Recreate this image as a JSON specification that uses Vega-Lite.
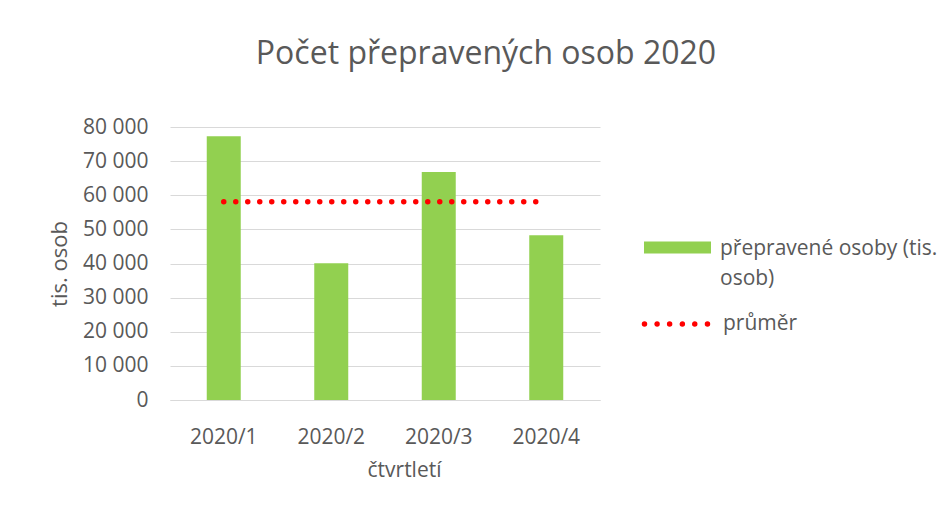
{
  "$schema": "https://vega.github.io/schema/vega-lite/v6.json",
  "autosize": {"type": "none"},
  "padding": {"left": 170, "top": 127, "right": 348, "bottom": 109},
  "width": 430,
  "height": 273,
  "background": "white",
  "config": {
    "view": {"stroke": null},
    "font": "Open Sans",
    "style": {"guide-label": {"lineHeight": 30}},
    "axisY": {
      "values": [0, 10000, 20000, 30000, 40000, 50000, 60000, 70000, 80000],
      "labelExpr": "replace(format(datum.value, ',d'), ',', ' ')",
      "labelOverlap": false,
      "labelFontSize": 21,
      "labelColor": "#595959",
      "labelPadding": 22,
      "titleFontSize": 22,
      "titleFontWeight": "normal",
      "titleColor": "#595959",
      "titlePadding": 11,
      "ticks": false,
      "domain": false,
      "gridColor": "#D9D9D9",
      "gridWidth": 1
    }
  },
  "title": {
    "text": "Počet přepravených osob 2020",
    "anchor": "middle",
    "dx": 101,
    "offset": 45,
    "fontSize": 32,
    "fontWeight": "normal",
    "font": "Open Sans",
    "color": "#595959"
  },
  "data": {
    "values": [
      {"q": "2020/1", "v": 77300, "avg": 58125, "s1": "přepravené osoby (tis. osob)", "s2": "průměr"},
      {"q": "2020/2", "v": 40100, "avg": 58125, "s1": "přepravené osoby (tis. osob)", "s2": "průměr"},
      {"q": "2020/3", "v": 66800, "avg": 58125, "s1": "přepravené osoby (tis. osob)", "s2": "průměr"},
      {"q": "2020/4", "v": 48300, "avg": 58125, "s1": "přepravené osoby (tis. osob)", "s2": "průměr"}
    ]
  },
  "encoding": {
    "x": {
      "field": "q",
      "type": "nominal",
      "scale": {"paddingInner": 0, "paddingOuter": 0},
      "axis": {
        "title": "čtvrtletí",
        "labelAngle": 0,
        "labelFontSize": 21,
        "labelColor": "#595959",
        "labelPadding": 26,
        "titleFontSize": 21,
        "titleFontWeight": "normal",
        "titleColor": "#595959",
        "titlePadding": 12,
        "titleX": 234,
        "ticks": false,
        "domainColor": "#D9D9D9",
        "domainWidth": 1
      }
    }
  },
  "layer": [
    {
      "mark": {"type": "bar", "size": 34, "color": "#92D050"},
      "encoding": {
        "y": {
          "field": "v",
          "type": "quantitative",
          "scale": {"domain": [0, 80000], "nice": false},
          "axis": {"title": "tis. osob"}
        },
        "fill": {
          "field": "s1",
          "type": "nominal",
          "scale": {"range": ["#92D050"]},
          "legend": {
            "title": null,
            "orient": "none",
            "legendX": 474,
            "legendY": 94,
            "padding": 0,
            "symbolType": "M-1,-0.39H1V-0.03H-1Z",
            "symbolSize": 4489,
            "symbolStrokeWidth": 0,
            "symbolOpacity": 1,
            "labelOffset": 9,
            "labelFontSize": 21,
            "labelColor": "#595959",
            "labelBaseline": "alphabetic",
            "labelLimit": 400,
            "labelExpr": "[ 'přepravené osoby (tis.', 'osob)' ]"
          }
        }
      }
    },
    {
      "mark": {"type": "line", "strokeWidth": 5.5, "strokeDash": [0, 12], "strokeCap": "round"},
      "encoding": {
        "y": {"field": "avg", "type": "quantitative", "axis": {"title": "tis. osob"}},
        "stroke": {
          "field": "s2",
          "type": "nominal",
          "scale": {"range": ["#FF0000"]},
          "legend": {
            "title": null,
            "orient": "none",
            "legendX": 474,
            "legendY": 162,
            "padding": 0,
            "symbolType": "M-1.07,0a0.04,0.04 0 1,0 0.08,0a0.04,0.04 0 1,0 -0.08,0M-0.695,0a0.04,0.04 0 1,0 0.08,0a0.04,0.04 0 1,0 -0.08,0M-0.32,0a0.04,0.04 0 1,0 0.08,0a0.04,0.04 0 1,0 -0.08,0M0.06,0a0.04,0.04 0 1,0 0.08,0a0.04,0.04 0 1,0 -0.08,0M0.43,0a0.04,0.04 0 1,0 0.08,0a0.04,0.04 0 1,0 -0.08,0M0.81,0a0.04,0.04 0 1,0 0.08,0a0.04,0.04 0 1,0 -0.08,0",
            "symbolSize": 4489,
            "symbolStrokeWidth": 2.8,
            "symbolOpacity": 1,
            "labelOffset": 9,
            "labelFontSize": 21,
            "labelColor": "#595959",
            "labelLimit": 400
          }
        }
      }
    }
  ]
}
